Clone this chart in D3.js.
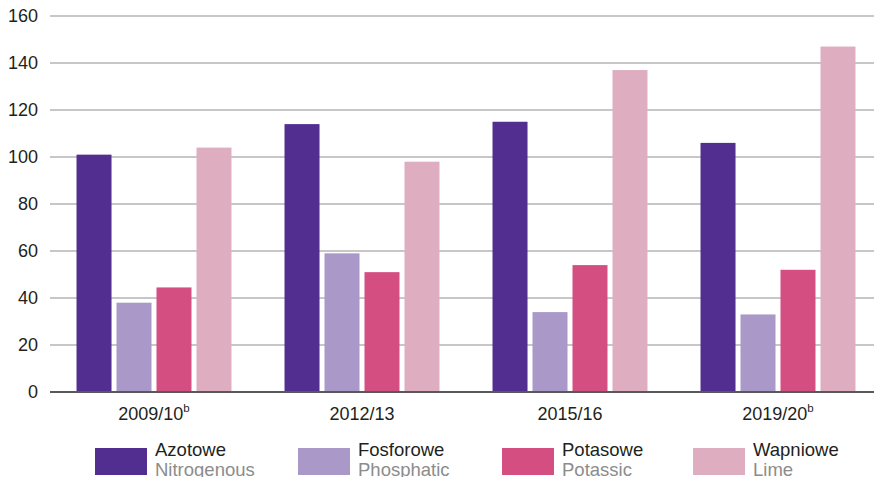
<!DOCTYPE html>
<html>
<head>
<meta charset="utf-8">
<script src="https://cdn.jsdelivr.net/npm/d3@7"></script>
<style>
  body { margin: 0; background: #fff; }
  text { font-family: "Liberation Sans", Arial, sans-serif; }
</style>
</head>
<body>
<svg id="chart" width="874" height="477"></svg>
<script>
// data
var periods = ["2009/10", "2012/13", "2015/16", "2019/20"];
var periodNotes = ["b", "", "", "b"];
var seriesPl = ["Azotowe", "Fosforowe", "Potasowe", "Wapniowe"];
var seriesEn = ["Nitrogenous", "Phosphatic", "Potassic", "Lime"];
var colors = ["#512e8f", "#a998c8", "#d54e81", "#dfadc0"];
var nitrogenous = [101, 114, 115, 106];
var phosphatic = [38, 59, 34, 33];
var potassic = [44.5, 51, 54, 52];
var lime = [104, 98, 137, 147];
var yTicks = [0, 20, 40, 60, 80, 100, 120, 140, 160];

var values = [nitrogenous, phosphatic, potassic, lime];

var svg = d3.select("#chart"),
    margin = {top: 16, right: 0, bottom: 85, left: 50},
    width = +svg.attr("width"),
    height = +svg.attr("height");

var x0 = d3.scaleBand()
    .domain(periods)
    .range([margin.left, 882])
    .paddingInner(0.255)
    .paddingOuter(0.1275);

var x1 = d3.scaleBand()
    .domain(seriesPl)
    .range([0, x0.bandwidth()])
    .paddingInner(0.125);

var y = d3.scaleLinear()
    .domain([0, 160])
    .range([392, margin.top]);

// gridlines
svg.append("g")
    .selectAll("line")
    .data(yTicks.filter(function(d) { return d > 0; }))
    .enter().append("line")
    .attr("x1", margin.left)
    .attr("x2", width)
    .attr("y1", function(d) { return y(d); })
    .attr("y2", function(d) { return y(d); })
    .attr("stroke", "#b4b4b4")
    .attr("stroke-width", 1.5);

// y tick labels
svg.append("g")
    .selectAll("text")
    .data(yTicks)
    .enter().append("text")
    .attr("x", 38)
    .attr("y", function(d) { return y(d); })
    .attr("dy", "0.36em")
    .attr("text-anchor", "end")
    .attr("font-size", 18)
    .attr("fill", "#231f20")
    .text(function(d) { return d; });

// bars
var groups = svg.append("g")
    .selectAll("g")
    .data(periods)
    .enter().append("g")
    .attr("transform", function(d) { return "translate(" + x0(d) + ",0)"; });

groups.selectAll("rect")
    .data(function(d, i) {
      return seriesPl.map(function(s, j) { return {key: s, value: values[j][i], color: colors[j]}; });
    })
    .enter().append("rect")
    .attr("x", function(d) { return x1(d.key); })
    .attr("y", function(d) { return y(d.value); })
    .attr("width", x1.bandwidth())
    .attr("height", function(d) { return y(0) - y(d.value); })
    .attr("fill", function(d) { return d.color; });

// baseline
svg.append("line")
    .attr("x1", margin.left)
    .attr("x2", width)
    .attr("y1", y(0))
    .attr("y2", y(0))
    .attr("stroke", "#58595b")
    .attr("stroke-width", 1.8);

// x labels
var xl = svg.append("g")
    .selectAll("text")
    .data(periods)
    .enter().append("text")
    .attr("x", function(d) { return x0(d) + x0.bandwidth() / 2; })
    .attr("y", 420)
    .attr("text-anchor", "middle")
    .attr("font-size", 18)
    .attr("fill", "#231f20");
xl.append("tspan").text(function(d) { return d; });
xl.append("tspan")
    .attr("font-size", 11.5)
    .attr("dy", "-8")
    .text(function(d, i) { return periodNotes[i]; });

// legend
var legendX = [95, 298, 502, 693];
var legend = svg.append("g")
    .selectAll("g")
    .data(seriesPl)
    .enter().append("g")
    .attr("transform", function(d, i) { return "translate(" + legendX[i] + ",448)"; });

legend.append("rect")
    .attr("width", 52)
    .attr("height", 27)
    .attr("fill", function(d, i) { return colors[i]; });

legend.append("text")
    .attr("x", 60)
    .attr("y", 8)
    .attr("font-size", 18.5)
    .attr("fill", "#231f20")
    .text(function(d) { return d; });

legend.append("text")
    .attr("x", 60)
    .attr("y", 27.5)
    .attr("font-size", 18.5)
    .attr("fill", "#8c8c8c")
    .text(function(d, i) { return seriesEn[i]; });
</script>
</body>
</html>
